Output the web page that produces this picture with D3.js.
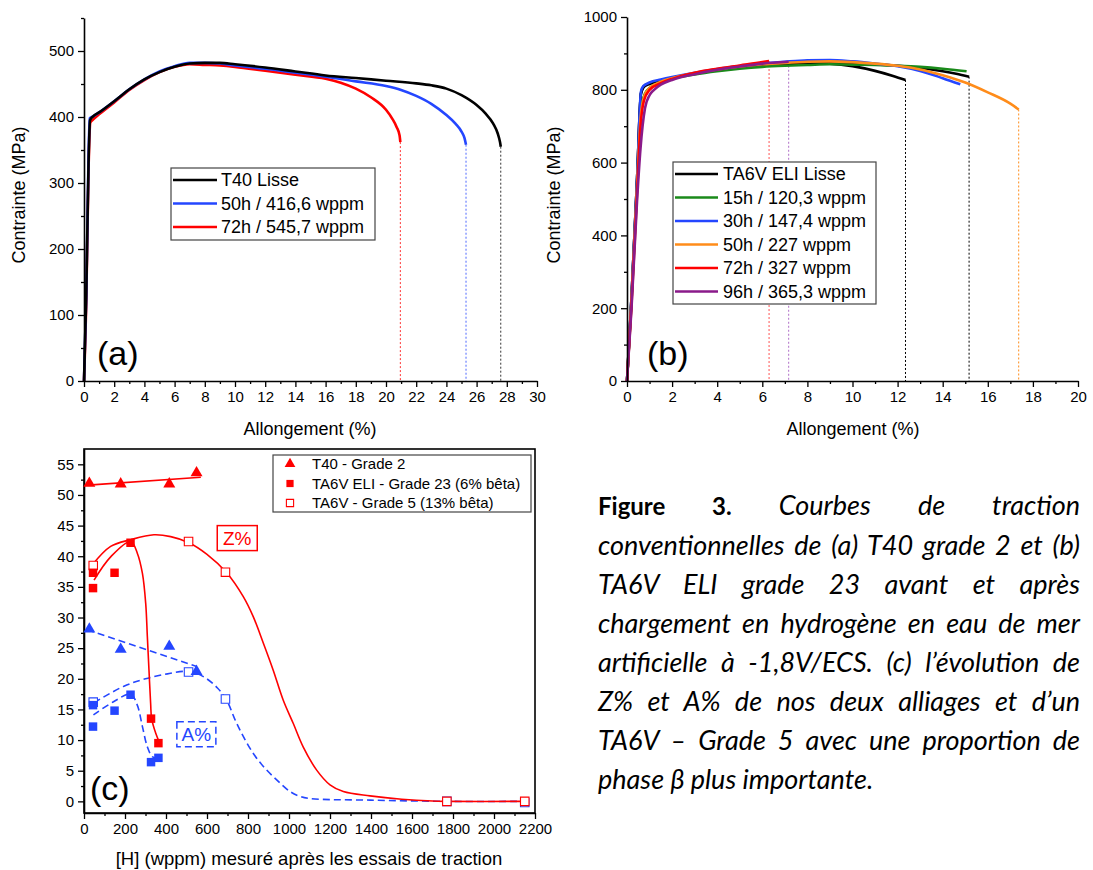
<!DOCTYPE html>
<html>
<head>
<meta charset="utf-8">
<script src="https://cdn.jsdelivr.net/npm/d3@7"></script>
<style>
body { margin: 0; background: #fff; }
#wrap { position: relative; width: 1093px; height: 870px; overflow: hidden; }
svg text { font-family: "Liberation Sans", Arial, sans-serif; fill: #000; }
#caption { position: absolute; left: 598px; top: 485px; width: 482px;
  font-family: Lato, "Open Sans", sans-serif; font-size: 27px; line-height: 39px; color: #000; }
#caption div { text-align: justify; text-align-last: justify; font-style: italic; white-space: normal; }
#caption div.last { text-align-last: left; }
#caption b { font-style: normal; font-size: 24px; }
</style>
</head>
<body>
<div id="wrap">
  <svg id="fig" width="1093" height="870"></svg>
  <div id="caption"></div>
</div>
<script>
// (a) T40 grade 2 : [allongement %, contrainte MPa]
var t40Lisse = [[0,0],[0.15,130],[0.3,330],[0.4,395],[0.6,401],[1,407],[2,424],[3,442],[4,457],[5,468],[6,476],[7,481],[8,482],[9,482],[10,480],[12,475],[14,469],[16,463],[18,459],[20,455],[22,451],[23,448],[24,443],[25,433],[26,418],[26.6,405],[27.1,390],[27.4,375],[27.55,362],[27.6,355]];
var t40_50h = [[0,0],[0.15,130],[0.3,340],[0.38,398],[0.6,401],[1,407],[2,424],[3,442],[4,457],[5,469],[6,477],[7,482],[8,482],[9,481],[10,478],[12,473],[14,467],[16,461],[18,454],[20,447],[21,441],[22,432],[23,420],[24,403],[24.6,390],[25,378],[25.2,368],[25.3,358]];
var t40_72h = [[0,0],[0.15,120],[0.3,320],[0.42,392],[0.6,396],[1,404],[2,422],[3,441],[4,456],[5,468],[6,476],[7,480],[8,479],[9,478],[10,476],[12,470],[14,464],[16,458],[17,452],[18,443],[19,430],[20,411],[20.4,398],[20.7,385],[20.9,372],[20.95,362]];
var legendA = ["T40 Lisse", "50h / 416,6 wppm", "72h / 545,7 wppm"];

// (b) TA6V ELI grade 23
var ta6vLisse = [[0,0],[0.2,230],[0.45,560],[0.62,790],[0.75,810],[1,818],[1.5,826],[2,833],[3,845],[4,855],[5,862],[6,868],[7,872],[8,874],[9,872],[10,865],[11,852],[11.8,838],[12.35,827]];
var ta6vLisse2 = [[0,0],[0.2,230],[0.45,560],[0.62,790],[0.75,808],[1,816],[2,832],[4,854],[6,866],[8,872],[10,872],[12,866],[13,860],[14,851],[14.6,844],[15.17,836]];
var ta6v_15h = [[0,0],[0.2,220],[0.45,540],[0.6,740],[0.8,790],[1,805],[1.5,820],[2,830],[3,842],[4,851],[5,858],[6,863],[7,866],[8,868],[9,870],[10,869],[11,868],[12,866],[13,863],[14,858],[15.06,851]];
var ta6v_30h = [[0,0],[0.2,230],[0.45,560],[0.62,795],[0.72,810],[1,820],[1.5,828],[2,835],[3,847],[4,857],[5,865],[6,872],[7,877],[8,881],[9,882],[10,878],[11,872],[12,865],[13,852],[14,832],[14.78,815]];
var ta6v_50h = [[0,0],[0.2,220],[0.45,540],[0.6,720],[0.75,780],[1,805],[1.5,822],[2,832],[3,846],[4,856],[5,864],[6,870],[7,874],[8,877],[9,878],[10,876],[11,872],[12,866],[13,856],[14,840],[15,820],[16,793],[17,762],[17.37,746]];
var ta6v_72h = [[0,0],[0.2,210],[0.45,520],[0.6,700],[0.75,770],[1,800],[1.5,818],[2,830],[3,847],[4,858],[5,867],[6,876],[6.3,879]];
var ta6v_96h = [[0,0],[0.2,200],[0.45,500],[0.6,640],[0.8,750],[1,785],[1.2,800],[1.5,814],[2,827],[3,843],[4,855],[5,864],[6,872],[7.17,877]];
var legendB = ["TA6V ELI Lisse", "15h / 120,3 wppm", "30h / 147,4 wppm", "50h / 227 wppm", "72h / 327 wppm", "96h / 365,3 wppm"];

// (c) Z% et A% en fonction de [H] (wppm)
var t40Z = [[26,51.9],[179,51.8],[416,51.8],[549,53.6]];
var t40A = [[26,28.1],[179,24.8],[416,25.3],[549,21.2]];
var eliZ = [[44,37.3],[44,34.8],[149,37.3],[227,42.2],[327,13.5],[363,9.5]];
var eliA = [[44,15.7],[44,12.2],[149,14.8],[227,17.4],[327,6.4],[363,7.1]];
var g5Z = [[45,38.5],[510,42.4],[690,37.4],[1770,0],[2150,0]];
var g5A = [[45,16.2],[510,21.1],[690,16.7],[1770,0],[2150,-0.2]];
// courbes de tendance
var t40ZFit = [[20,51.6],[570,52.9]];
var t40AFit = [[16,28],[550,22]];
var eliZFit = [[49,36.1],[130,39.9],[228,42.4],[260,40.5],[285,37.2],[301,32.3],[309,26.9],[317,21.4],[325,16],[330,13.5],[350,11.1],[368,9.6]];
var eliAFit = [[46,14.1],[146,16.3],[228,17.5],[260,15.7],[285,12.2],[309,8.9],[333,7.3],[363,6.9]];
var g5ZFit = [[41,38.6],[130,41.6],[228,42.7],[341,43.5],[423,43.2],[512,42.2],[600,40.3],[696,37.3],[777,33.4],[826,30.1],[875,25.8],[923,21.4],[972,16.5],[1021,12.7],[1069,8.9],[1135,5.1],[1200,2.7],[1265,1.6],[1395,0.9],[1550,0.35],[1700,0.05],[1770,0],[2150,0]];
var g5AFit = [[49,16.1],[195,18.8],[300,20],[407,20.8],[504,21.2],[580,20.4],[651,18.5],[696,16.5],[737,13.3],[777,10.6],[826,7.8],[875,5.7],[940,3.5],[1005,1.6],[1054,0.8],[1102,0.45],[1395,0.2],[1772,0],[2150,0]];
var legendC = ["T40 - Grade 2", "TA6V ELI - Grade 23 (6% bêta)", "TA6V - Grade 5 (13% bêta)"];

var captionLines = [
  "Courbes de traction",
  "conventionnelles de (a) T40 grade 2 et (b)",
  "TA6V ELI grade 23 avant et après",
  "chargement en hydrogène en eau de mer",
  "artificielle à -1,8V/ECS. (c) l’évolution de",
  "Z% et A% de nos deux alliages et d’un",
  "TA6V – Grade 5 avec une proportion de",
  "phase β plus importante."
];

var RED = "#ff0000", BLUE = "#2446ff";
var svg = d3.select("#fig");

function drawLine(g, pts, x, y, color, w, dash, curve) {
  g.append("path").datum(pts)
    .attr("fill", "none")
    .attr("stroke", color)
    .attr("stroke-width", w)
    .attr("stroke-dasharray", dash || null)
    .attr("stroke-linejoin", "round")
    .attr("d", d3.line().x(d => x(d[0])).y(d => y(d[1])).curve(curve || d3.curveMonotoneX));
}

function axes(g, x, y, xMajor, xMinor, yMajor, yMinor) {
  var y0 = y.range()[0], x0 = x.range()[0];
  g.append("g").attr("transform", "translate(0," + y0 + ")")
    .call(d3.axisBottom(x).tickValues(xMinor).tickSize(3).tickFormat(""))
    .call(s => s.select(".domain").remove());
  g.append("g").attr("transform", "translate(" + x0 + ",0)")
    .call(d3.axisLeft(y).tickValues(yMinor).tickSize(3).tickFormat(""))
    .call(s => s.select(".domain").remove());
  var ax = g.append("g").attr("transform", "translate(0," + y0 + ")")
    .call(d3.axisBottom(x).tickValues(xMajor).tickSize(6).tickSizeOuter(0).tickPadding(4).tickFormat(d3.format("d")));
  var ay = g.append("g").attr("transform", "translate(" + x0 + ",0)")
    .call(d3.axisLeft(y).tickValues(yMajor).tickSize(6).tickSizeOuter(0).tickPadding(4).tickFormat(d3.format("d")));
  [ax, ay].forEach(a => {
    a.attr("font-family", null).attr("font-size", null);
    a.selectAll("text").style("font-size", "15px");
    a.select(".domain").attr("stroke-width", 1.6);
  });
  g.selectAll(".tick line").attr("stroke-width", 1.3);
}

/* (a) */
var gA = svg.append("g");
var xA = d3.scaleLinear().domain([0, 30]).range([84, 537]);
var yA = d3.scaleLinear().domain([0, 550]).range([381, 18]);
var seriesA = [[t40_72h, RED], [t40_50h, BLUE], [t40Lisse, "#000"]];
seriesA.forEach(s => {
  var last = s[0][s[0].length - 1];
  gA.append("line").attr("x1", xA(last[0])).attr("x2", xA(last[0]))
    .attr("y1", yA(last[1])).attr("y2", yA(0))
    .attr("stroke", s[1]).attr("stroke-width", 1).attr("stroke-dasharray", "2,2").attr("opacity", 0.8);
});
seriesA.forEach(s => drawLine(gA, s[0], xA, yA, s[1], 2.6));
axes(gA, xA, yA, d3.range(0, 31, 2), d3.range(1, 30, 2), d3.range(0, 501, 100), d3.range(50, 551, 100));
gA.append("text").attr("x", 310).attr("y", 435).attr("text-anchor", "middle").style("font-size", "18px").text("Allongement (%)");
gA.append("text").attr("transform", "translate(25,195) rotate(-90)").attr("text-anchor", "middle").style("font-size", "18px").text("Contrainte (MPa)");
gA.append("text").attr("x", 97).attr("y", 365).style("font-size", "34px").text("(a)");
var legA = gA.append("g").attr("transform", "translate(171,168)");
legA.append("rect").attr("width", 204).attr("height", 72).attr("fill", "#fff").attr("stroke", "#444").attr("stroke-width", 1.2);
legendA.forEach((t, i) => {
  var c = [seriesA[2][1], seriesA[1][1], seriesA[0][1]][i];
  legA.append("line").attr("x1", 2).attr("x2", 46).attr("y1", 12 + i * 23.5).attr("y2", 12 + i * 23.5).attr("stroke", c).attr("stroke-width", 2.6);
  legA.append("text").attr("x", 50).attr("y", 12 + i * 23.5).attr("dy", "0.35em").style("font-size", "18px").text(t);
});

/* (b) */
var gB = svg.append("g");
var xB = d3.scaleLinear().domain([0, 20]).range([627, 1078]);
var yB = d3.scaleLinear().domain([0, 1000]).range([381, 17]);
var seriesB = [[ta6vLisse2, "#000"], [ta6vLisse, "#000"], [ta6v_15h, "#1a8a1a"], [ta6v_30h, BLUE], [ta6v_50h, "#ff8c1a"], [ta6v_72h, RED], [ta6v_96h, "#8a1a8a"]];
var dotColB = ["#000", "#000", null, null, "#ff8c1a", "#ff5050", "#b070c8"];
seriesB.forEach((s, i) => {
  if (!dotColB[i]) return;
  var last = s[0][s[0].length - 1];
  gB.append("line").attr("x1", xB(last[0])).attr("x2", xB(last[0]))
    .attr("y1", yB(last[1])).attr("y2", yB(0))
    .attr("stroke", dotColB[i]).attr("stroke-width", 1).attr("stroke-dasharray", "2,2");
});
seriesB.forEach(s => drawLine(gB, s[0], xB, yB, s[1], 2.6));
axes(gB, xB, yB, d3.range(0, 21, 2), d3.range(1, 20, 2), d3.range(0, 1001, 200), d3.range(100, 1000, 200));
gB.append("text").attr("x", 853).attr("y", 435).attr("text-anchor", "middle").style("font-size", "18px").text("Allongement (%)");
gB.append("text").attr("transform", "translate(560,195) rotate(-90)").attr("text-anchor", "middle").style("font-size", "18px").text("Contrainte (MPa)");
gB.append("text").attr("x", 647).attr("y", 365).style("font-size", "34px").text("(b)");
var legB = gB.append("g").attr("transform", "translate(673,162)");
legB.append("rect").attr("width", 203).attr("height", 142).attr("fill", "#fff").attr("stroke", "#444").attr("stroke-width", 1.2);
legendB.forEach((t, i) => {
  var c = seriesB[i + 1][1];
  legB.append("line").attr("x1", 2).attr("x2", 45).attr("y1", 12 + i * 23.5).attr("y2", 12 + i * 23.5).attr("stroke", c).attr("stroke-width", 2.6);
  legB.append("text").attr("x", 50).attr("y", 12 + i * 23.5).attr("dy", "0.35em").style("font-size", "18px").text(t);
});

/* (c) */
var gC = svg.append("g");
var xC = d3.scaleLinear().domain([0, 2200]).range([84, 535]);
var yC = d3.scaleLinear().domain([-1.9, 57.5]).range([813, 449]);
gC.append("rect").attr("x", 84).attr("y", 449).attr("width", 451).attr("height", 364)
  .attr("fill", "none").attr("stroke", "#000").attr("stroke-width", 1.6);
axes(gC, xC, yC, d3.range(0, 2201, 200), d3.range(100, 2200, 200), d3.range(0, 56, 5), d3.range(2.5, 57, 5));
var cr = d3.curveCatmullRom.alpha(0.5);
drawLine(gC, t40AFit, xC, yC, BLUE, 1.6, "7,4", d3.curveLinear);
drawLine(gC, eliAFit, xC, yC, BLUE, 1.6, "7,4", cr);
drawLine(gC, g5AFit, xC, yC, BLUE, 1.6, "7,4", cr);
drawLine(gC, t40ZFit, xC, yC, RED, 1.6, null, d3.curveLinear);
drawLine(gC, eliZFit, xC, yC, RED, 1.6, null, cr);
drawLine(gC, g5ZFit, xC, yC, RED, 1.6, null, cr);

var tri = d3.symbol().type(d3.symbolTriangle).size(62);
var sq = d3.symbol().type(d3.symbolSquare).size(72);
function marks(pts, sym, color, open) {
  gC.selectAll(null).data(pts).enter().append("path")
    .attr("d", sym)
    .attr("transform", d => "translate(" + xC(d[0]) + "," + yC(d[1]) + ")")
    .attr("fill", open ? "#fff" : color)
    .attr("stroke", color).attr("stroke-width", open ? 1.1 : 0);
}
marks(g5A, sq, BLUE, true);
marks(g5Z, sq, RED, true);
marks(eliA, sq, BLUE, false);
marks(eliZ, sq, RED, false);
marks(t40A, tri, BLUE, false);
marks(t40Z, tri, RED, false);

// annotations Z% / A%
gC.append("rect").attr("x", xC(650)).attr("y", yC(45)).attr("width", 40).attr("height", 25)
  .attr("fill", "#fff").attr("stroke", RED).attr("stroke-width", 1.5);
gC.append("text").attr("x", xC(650) + 20).attr("y", yC(45) + 13).attr("dy", "0.35em").attr("text-anchor", "middle")
  .style("font-size", "19px").style("fill", RED).text("Z%");
gC.append("rect").attr("x", xC(453)).attr("y", yC(13)).attr("width", 39).attr("height", 25)
  .attr("fill", "#fff").attr("stroke", BLUE).attr("stroke-width", 1.5).attr("stroke-dasharray", "7,4");
gC.append("text").attr("x", xC(453) + 19.5).attr("y", yC(13) + 13).attr("dy", "0.35em").attr("text-anchor", "middle")
  .style("font-size", "19px").style("fill", BLUE).text("A%");

gC.append("text").attr("x", 309).attr("y", 865).attr("text-anchor", "middle").style("font-size", "18.5px")
  .text("[H] (wppm) mesuré après les essais de traction");
gC.append("text").attr("x", 90).attr("y", 800).style("font-size", "34px").text("(c)");

var legC = gC.append("g").attr("transform", "translate(273,455)");
legC.append("rect").attr("width", 258).attr("height", 57).attr("fill", "#fff").attr("stroke", "#444").attr("stroke-width", 1.2);
var legSym = [[tri, RED, false], [sq, RED, false], [sq, RED, true]];
legendC.forEach((t, i) => {
  legC.append("path").attr("d", d3.symbol().type(i ? d3.symbolSquare : d3.symbolTriangle).size(i ? 52 : 50))
    .attr("transform", "translate(17," + (9 + i * 19.5) + ")")
    .attr("fill", legSym[i][2] ? "#fff" : legSym[i][1]).attr("stroke", legSym[i][1]).attr("stroke-width", legSym[i][2] ? 1.1 : 0);
  legC.append("text").attr("x", 39).attr("y", 9 + i * 19.5).attr("dy", "0.35em").style("font-size", "15px").text(t);
});

/* légende de la figure */
var cap = d3.select("#caption");
captionLines.forEach((l, i) => {
  var d = cap.append("div").classed("last", i === captionLines.length - 1);
  if (i === 0) {
    d.append("b").text("Figure 3.");
    d.append("span").text(" " + l);
  } else {
    d.text(l);
  }
});
</script>
</body>
</html>
